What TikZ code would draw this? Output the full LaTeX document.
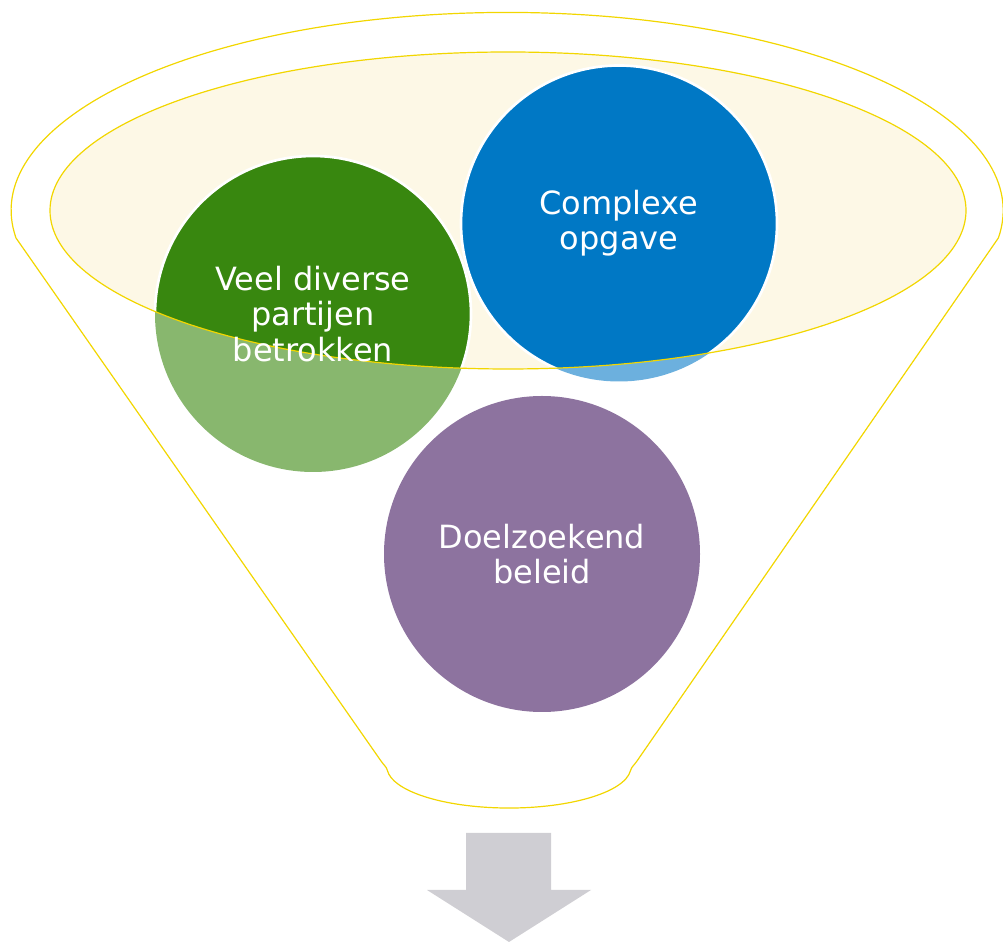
\documentclass[tikz,border=0pt]{standalone}
\usepackage{fontspec}
\setmainfont{DejaVu Sans}
\usepackage{tikz}
\usetikzlibrary{positioning}
\definecolor{rimyellow}{RGB}{242,214,0}
\definecolor{creamfill}{RGB}{253,248,230}
\definecolor{greendark}{RGB}{56,135,15}
\definecolor{greenlight}{RGB}{136,183,110}
\definecolor{bluedark}{RGB}{0,120,197}
\definecolor{bluelight}{RGB}{108,176,222}
\definecolor{purplefill}{RGB}{141,115,159}
\definecolor{arrowgrey}{RGB}{207,206,211}
\tikzstyle{rim} = [draw=rimyellow, line width=0.9pt]
\tikzstyle{bubble} = [circle, minimum size=237pt, inner sep=0pt, outer sep=0pt]
\tikzstyle{bubbletext} = [text=white, align=center, font=\fontsize{24}{26.5}\selectfont]

\begin{document}
\begin{tikzpicture}[x=0.75pt, y=0.75pt]
\useasboundingbox (0,0) rectangle (1003,942);
% funnel
\draw [rim] (16,704) arc[start angle=188, end angle=-8, x radius=496, y radius=198] -- (637,181) .. controls (634,176.5) and (631.6,175.5) .. (630.5,171.4) arc[start angle=-5, end angle=-175, x radius=122, y radius=41] .. controls (386.4,175.5) and (384,176.5) .. (381,181) -- cycle;
\fill [creamfill] (508,731.5) ellipse [x radius=458, y radius=158.5];

% circles
\node (partijen) [bubble, fill=greenlight] at (313,628) {};
\node (opgave) [bubble, fill=bluelight] at (619,718.5) {};
\node (beleid) [bubble, fill=purplefill] at (542,388) {};

\begin{scope}
\clip (508,731.5) ellipse [x radius=458, y radius=158.5];
\filldraw [fill=greendark, draw=white, line width=2pt] (partijen.center) circle [radius=158];
\filldraw [fill=bluedark, draw=white, line width=2pt] (opgave.center) circle [radius=158];
\end{scope}
\draw [rim] (508,731.5) ellipse [x radius=458, y radius=158.5];

\node (partijen-tekst) [bubbletext] at (partijen) {Veel diverse\\partijen\\betrokken};
\node (opgave-tekst) [bubbletext] at (opgave) {Complexe\\opgave};
\node (beleid-tekst) [bubbletext] at (beleid) {Doelzoekend\\beleid};

% arrow
\fill [arrowgrey] (466,109) -- (551,109) -- (551,52) -- (591,52) -- (509,0) -- (427,52) -- (466,52) -- cycle;
\end{tikzpicture}
\end{document}
